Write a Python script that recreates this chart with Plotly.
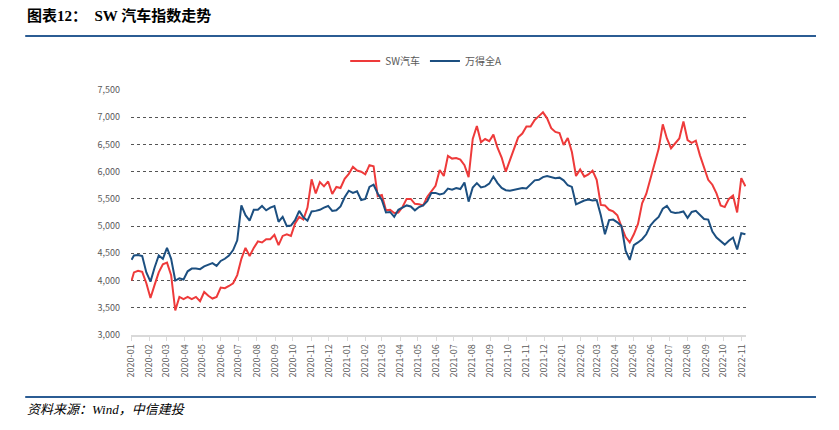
import pandas as pd
import plotly.graph_objects as go

# Weekly sampled dates (first trading day + Mondays)
dates = ["2020-01-02"] + [d.strftime("%Y-%m-%d") for d in pd.date_range("2020-01-06", "2022-11-07", freq="W-MON")]

sw_auto = [
    4000,
    4150, 4180, 4160, 3950, 3680, 3920, 4150, 4300, 4330, 4100,
    3450, 3700, 3660, 3700, 3660, 3700, 3620, 3790, 3720, 3670,
    3700, 3870, 3860, 3900, 3950, 4100, 4400, 4600, 4450, 4600,
    4720, 4700, 4760, 4760, 4840, 4650, 4820, 4850, 4820, 5050,
    5170, 5120, 5340, 5860, 5600, 5810, 5730, 5820, 5590, 5720,
    5700, 5870, 5960, 6090, 6020, 6000, 5950, 6120, 6100, 5550,
    5570, 5290, 5300, 5240, 5250, 5350, 5500, 5500, 5410, 5400,
    5380, 5540, 5630, 5740, 6030, 5920, 6290, 6240, 6250, 6220,
    6120, 5900, 6600, 6840, 6540, 6600, 6560, 6680, 6440, 6260,
    6000, 6200, 6400, 6630, 6700, 6830, 6830, 6950, 7020, 7090,
    6980, 6800, 6730, 6710, 6490, 6620, 6360, 5920, 6040, 5910,
    5950, 6020, 5850, 5390, 5380, 5300, 5270, 5200, 4990, 4800,
    4700, 4850, 5040, 5420, 5590, 5880, 6150, 6420, 6870, 6610,
    6430, 6520, 6610, 6920, 6580, 6530, 6570, 6300, 6060, 5850,
    5760, 5600, 5380, 5350, 5500, 5560, 5250, 5880, 5730,
]

wind_a = [
    4380,
    4460, 4470, 4450, 4150, 3980, 4240, 4460, 4400, 4600, 4400,
    4000, 4040, 4020, 4170, 4220, 4220, 4210, 4260, 4290, 4320,
    4270, 4360, 4400, 4460, 4560, 4740, 5380, 5200, 5100, 5300,
    5300, 5370, 5290, 5340, 5370, 5080, 5170, 5000, 5010, 5110,
    5280, 5160, 5100, 5270, 5280, 5300, 5340, 5370, 5280, 5290,
    5360, 5530, 5650, 5610, 5640, 5480, 5500, 5720, 5760, 5600,
    5480, 5250, 5260, 5170, 5300, 5340, 5380, 5360, 5290, 5350,
    5380, 5460, 5610, 5610, 5580, 5600, 5690, 5670, 5700, 5680,
    5800, 5450, 5710, 5790, 5710, 5730, 5780, 5910, 5790, 5700,
    5660, 5650, 5670, 5690, 5700, 5690, 5770, 5840, 5850, 5900,
    5920, 5900, 5880, 5890, 5840, 5750, 5720, 5400, 5440, 5470,
    5490, 5470, 5480, 5200, 4850, 5110, 5120, 5070, 5000, 4550,
    4380, 4650, 4700, 4760, 4850, 5010, 5100, 5170, 5320, 5370,
    5260, 5240, 5250, 5270, 5150, 5260, 5280, 5200, 5130, 5120,
    4900, 4790, 4720, 4660, 4730, 4790, 4570, 4870, 4850,
]

y_ticks = [3000, 3500, 4000, 4500, 5000, 5500, 6000, 6500, 7000, 7500]

RED = "#EE3A3A"
BLUE = "#1C4F80"
GRAY_TXT = "#595959"
RULE = "#2B5C93"

fig = go.Figure()
fig.add_trace(go.Scatter(x=dates, y=sw_auto, mode="lines", name="SW汽车",
                         line=dict(color=RED, width=2)))
fig.add_trace(go.Scatter(x=dates, y=wind_a, mode="lines", name="万得全A",
                         line=dict(color=BLUE, width=2)))

fig.update_layout(
    width=831, height=422,
    margin=dict(l=123, r=93, t=82, b=95),
    paper_bgcolor="white", plot_bgcolor="white",
    font=dict(family="Noto Sans CJK SC, Noto Sans, sans-serif", size=10, color=GRAY_TXT),
    showlegend=True,
    legend=dict(orientation="h", x=0.48, xanchor="center", y=1.118, yanchor="middle",
                font=dict(size=10, color=GRAY_TXT), itemwidth=30,
                bgcolor="rgba(0,0,0,0)"),
    xaxis=dict(
        type="date",
        range=["2020-01-01", "2022-11-08"],
        tick0="2020-01-01", dtick="M1", tickformat="%Y-%m",
        tickangle=-90, ticks="outside", ticklen=4, tickcolor="#D9D9D9",
        showline=True, linecolor="#D9D9D9", linewidth=1.5,
        showgrid=False, zeroline=False,
        tickfont=dict(size=9, color=GRAY_TXT),
    ),
    yaxis=dict(
        range=[3000, 7500], tickvals=y_ticks, tickformat=",",
        showgrid=True, gridcolor="#555555", griddash="dot", gridwidth=1,
        zeroline=False, showline=False, ticks="", ticklabelstandoff=10,
        tickfont=dict(size=9, color=GRAY_TXT),
    ),
)

# Header title and rules
fig.add_annotation(xref="paper", yref="paper", x=-0.172, y=1.306, xanchor="left", yanchor="middle",
                   text="<b>图表12：  SW 汽车指数走势</b>", showarrow=False,
                   font=dict(family="Liberation Serif, Noto Sans CJK SC", size=15, color="black"))
fig.add_shape(type="line", xref="paper", yref="paper", x0=-0.172, x1=1.1138, y0=1.22, y1=1.22,
              line=dict(color=RULE, width=2))
fig.add_shape(type="line", xref="paper", yref="paper", x0=-0.172, x1=1.1138, y0=-0.253, y1=-0.253,
              line=dict(color=RULE, width=2))
fig.add_annotation(xref="paper", yref="paper", x=-0.172, y=-0.306, xanchor="left", yanchor="middle",
                   text="<i>资料来源：Wind，中信建投</i>", showarrow=False,
                   font=dict(family="Liberation Serif, Noto Sans CJK SC", size=13, color="black"))

fig.write_html("out.html")
